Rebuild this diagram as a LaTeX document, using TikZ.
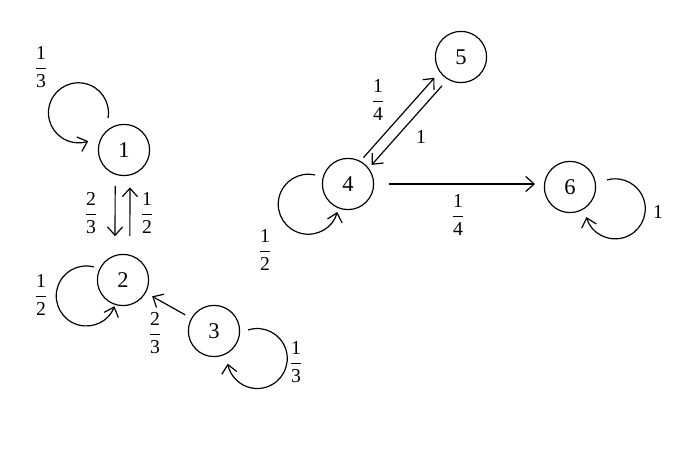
\documentclass[tikz,border=0pt]{standalone}
\usepackage{fontspec}
\setmainfont{Liberation Serif}
\usetikzlibrary{arrows.meta,calc}
\tikzset{
  state/.style={circle, draw, line width=0.85pt, minimum size=1.28cm, inner sep=0pt,
                font=\fontsize{16}{18}\selectfont},
  arr/.style={-{Straight Barb[length=2.1mm,width=3.8mm]}, line width=0.85pt},
  prob/.style={font=\fontsize{14}{16}\selectfont, inner sep=0pt},
}
\newcommand{\fr}[2]{$\displaystyle\frac{\mbox{#1}}{\mbox{#2}}$}

\begin{document}
\begin{tikzpicture}[x=0.025cm, y=0.025cm]
  \useasboundingbox (0,0) rectangle (680,459);
  % states
  \node[state] (s1) at (124,309) {1};
  \node[state] (s2) at (123,179) {2};
  \node[state] (s3) at (214,128) {3};
  \node[state] (s4) at (348,275) {4};
  \node[state] (s5) at (461,402) {5};
  \node[state] (s6) at (570,272) {6};
  % transitions
  \draw[arr, shorten <=0.24cm, shorten >=0.44cm] ([xshift=-0.22cm]s1.south) -- ([xshift=-0.2cm]s2.north);
  \draw[arr, shorten <=0.44cm, shorten >=0.28cm] ([xshift=0.17cm]s2.north) -- ([xshift=0.15cm]s1.south);
  \draw[arr, shorten <=0.17cm, shorten >=0.18cm] (s3) -- (s2);
  \draw[arr, shorten <=0.75cm, shorten >=0.83cm] ([shift={(-4.5,4)}]s4.center) -- ([shift={(-4.5,4)}]s5.center);
  \draw[arr, shorten <=0.85cm, shorten >=0.75cm] ([shift={(3.7,-3.3)}]s5.center) -- ([shift={(3.7,-3.3)}]s4.center);
  \draw[arr, shorten <=0.37cm, shorten >=0.22cm] (s4) -- (s4 -| s6.west);
  % self loops
  \draw[arr] ([shift={(-16,32)}]s1.center) arc[start angle=-10, end angle=289, radius=30];
  \draw[arr] ([shift={(-29,13)}]s2.center) arc[start angle=75, end angle=340, radius=30];
  \draw[arr] ([shift={(34,1)}]s3.center) arc[start angle=108, end angle=-170, radius=30];
  \draw[arr] ([shift={(-33,9)}]s4.center) arc[start angle=77, end angle=345, radius=30];
  \draw[arr] ([shift={(37,7)}]s6.center) arc[start angle=106, end angle=-164, radius=30];
  % probabilities
  \node[prob] (p11) at (41,392) {\fr{1}{3}};
  \node[prob] (p12) at (91,246) {\fr{2}{3}};
  \node[prob] (p21) at (147,246) {\fr{1}{2}};
  \node[prob] (p22) at (41,164) {\fr{1}{2}};
  \node[prob] (p32) at (155,126) {\fr{2}{3}};
  \node[prob] (p33) at (296,97) {\fr{1}{3}};
  \node[prob] (p44) at (265,209) {\fr{1}{2}};
  \node[prob] (p45) at (378,359) {\fr{1}{4}};
  \node[prob] (p54) at (421,322) {1};
  \node[prob] (p46) at (458,244) {\fr{1}{4}};
  \node[prob] (p66) at (658,247) {1};
\end{tikzpicture}
\end{document}
